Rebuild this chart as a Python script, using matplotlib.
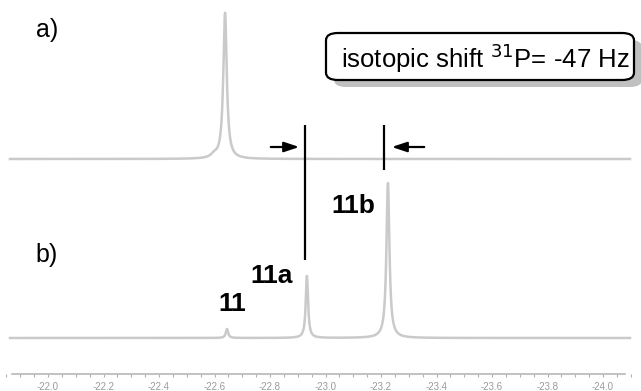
import numpy as np
import matplotlib
matplotlib.use("Agg")
import matplotlib.pyplot as plt
from matplotlib.patches import FancyBboxPatch
from matplotlib.ticker import MultipleLocator, FuncFormatter

plt.rcParams['font.family'] = ['Liberation Sans', 'DejaVu Sans']

# ---- data (ppm, intensity, width ppm) ----
peaks_a_pos = [-22.638, -22.598]
peaks_a_height = [146, 3]
peaks_a_width = [0.015, 0.025]

peaks_b_labels = ["11", "11a", "11b"]
peaks_b_pos = [-22.645, -22.933, -23.225]
peaks_b_height = [9, 62, 155]
peaks_b_width = [0.010, 0.010, 0.013]

tick_values = [-22.0, -22.2, -22.4, -22.6, -22.8, -23.0, -23.2, -23.4, -23.6, -23.8, -24.0]
marker_lines = [-22.926, -23.211]
box_text = "isotopic shift $^{31}$P= -47 Hz"

W, H = 641, 391
fig = plt.figure(figsize=(W / 100, H / 100), dpi=100)
ax = fig.add_axes([0, 0, 1, 1])

def px2ppm(x):
    return -22.0 - (x - 48) / 277.5

def fx(x, y):
    return (x / W, 1 - y / H)

ax.set_xlim(px2ppm(0), px2ppm(W))
ax.set_ylim(0, H)

ppm = np.linspace(px2ppm(10), px2ppm(630), 4000)

def spectrum(pos, hts, wds):
    s = np.zeros_like(ppm)
    for p, h, w in zip(pos, hts, wds):
        s += h / (1 + (2 * (ppm - p) / w) ** 2)
    return s

base_a = H - 159
base_b = H - 338
gray = '#cacaca'
ax.plot(ppm, base_a + spectrum(peaks_a_pos, peaks_a_height, peaks_a_width), color=gray, lw=1.8)
ax.plot(ppm, base_b + spectrum(peaks_b_pos, peaks_b_height, peaks_b_width), color=gray, lw=1.8)

# marker lines
ax.vlines(marker_lines[0], H - 260, H - 125, color='black', lw=1.6)
ax.vlines(marker_lines[1], H - 170, H - 125, color='black', lw=1.6)

# arrows
ax.annotate('', xy=(px2ppm(302), H - 147), xytext=(px2ppm(268), H - 147),
            arrowprops=dict(arrowstyle='-|>,head_length=0.9,head_width=0.3', color='black', lw=1.6))
ax.annotate('', xy=(px2ppm(389), H - 147), xytext=(px2ppm(427), H - 147),
            arrowprops=dict(arrowstyle='-|>,head_length=0.9,head_width=0.3', color='black', lw=1.6))

# axis
ax.spines[['top', 'left', 'right']].set_visible(False)
ax.spines['bottom'].set_position(('data', H - 374))
ax.spines['bottom'].set_bounds(px2ppm(12), px2ppm(625))
ax.spines['bottom'].set_color('#b8b8b8')
ax.spines['bottom'].set_linewidth(1.2)
ax.set_xticks(tick_values)
ax.xaxis.set_minor_locator(MultipleLocator(0.05))
ax.xaxis.set_major_formatter(FuncFormatter(lambda v, p: f"{v:.1f}"))
ax.tick_params(axis='x', which='both', direction='out', length=2, width=0.8,
               color='#b0b0b0', labelcolor='#9a9a9a', labelsize=7, pad=4)
ax.set_yticks([])
ax.patch.set_visible(False)

# labels
fig.text(*fx(47, 30), "a)", fontsize=18, ha='center', va='center')
fig.text(*fx(47, 255), "b)", fontsize=18, ha='center', va='center')
fig.text(*fx(232, 304), peaks_b_labels[0], fontsize=19, fontweight='bold', ha='center', va='center')
fig.text(*fx(272, 276), peaks_b_labels[1], fontsize=19, fontweight='bold', ha='center', va='center')
fig.text(*fx(353, 206), peaks_b_labels[2], fontsize=19, fontweight='bold', ha='center', va='center')

# box with shadow
bx0, by0, bx1, by1 = 326, 33, 634, 80
r = 12
shadow = FancyBboxPatch(((bx0 + 8) / W, 1 - (by1 + 7) / H), (bx1 - bx0) / W, (by1 - by0) / H,
                        boxstyle=f"round,pad=0,rounding_size={r / W}", transform=fig.transFigure,
                        facecolor='#c0c0c0', edgecolor='none', zorder=5)
box = FancyBboxPatch((bx0 / W, 1 - by1 / H), (bx1 - bx0) / W, (by1 - by0) / H,
                     boxstyle=f"round,pad=0,rounding_size={r / W}", transform=fig.transFigure,
                     facecolor='white', edgecolor='black', lw=1.6, zorder=6)
fig.patches.extend([shadow, box])
fig.text(*fx(485, 58), box_text, fontsize=18.5, ha='center', va='center', zorder=7)

fig.savefig("out.png", dpi=100)
